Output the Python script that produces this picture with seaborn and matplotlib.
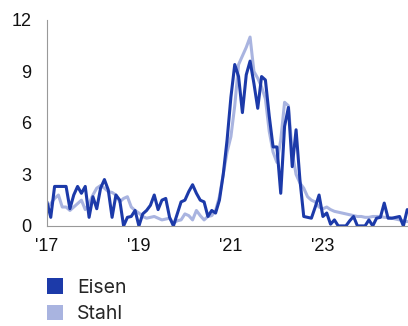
import numpy as np
import pandas as pd
import matplotlib
matplotlib.use("Agg")
import matplotlib.pyplot as plt
import seaborn as sns
from matplotlib.patches import Patch

# monthly values from Jan 2017
eisen = [1.4, 0.5, 2.3, 2.3, 2.3, 2.3, 1.0, 1.8, 2.3, 1.9, 2.3, 0.5,
         1.7, 1.0, 2.2, 2.7, 2.1, 0.5, 1.8, 1.5, 0.0, 0.5, 0.55, 0.9,
         0.0, 0.7, 0.9, 1.2, 1.8, 0.95, 1.5, 1.6, 0.5, 0.0, 0.7, 1.4,
         1.5, 2.0, 2.4, 1.9, 1.5, 1.4, 0.55, 0.9, 0.75, 1.5, 3.0, 5.0,
         7.5, 9.4, 8.7, 6.6, 8.8, 9.6, 8.3, 6.85, 8.7, 8.5, 6.4, 4.6,
         4.6, 1.9, 5.8, 6.9, 3.45, 5.6, 2.7, 0.55, 0.5, 0.45, 1.1, 1.8,
         0.55, 0.75, 0.1, 0.35, 0.0, 0.0, 0.0, 0.3, 0.55, 0.0, 0.0, 0.0,
         0.35, 0.0, 0.45, 0.5, 1.33, 0.45, 0.45, 0.5, 0.55, 0.0, 0.95]
stahl = [1.05, 1.3, 1.6, 1.8, 1.1, 1.1, 0.9, 1.1, 1.3, 1.5, 0.95, 1.3,
         1.8, 2.2, 2.35, 2.2, 2.0, 1.95, 1.8, 1.4, 1.6, 1.7, 1.1, 0.9,
         0.75, 0.55, 0.45, 0.5, 0.55, 0.45, 0.35, 0.4, 0.45, 0.15, 0.3, 0.35,
         0.7, 0.6, 0.35, 0.9, 0.6, 0.35, 0.55, 0.6, 0.9, 1.7, 3.0, 4.3,
         5.2, 7.0, 9.4, 9.9, 10.4, 11.0, 9.0, 8.6, 8.1, 7.4, 5.5, 4.3,
         3.7, 5.0, 7.2, 7.0, 4.3, 3.0, 2.5, 2.2, 1.7, 1.5, 1.4, 1.1,
         1.0, 1.1, 0.95, 0.85, 0.8, 0.75, 0.7, 0.65, 0.6, 0.55, 0.55, 0.5,
         0.5, 0.55, 0.55, 0.55, 0.5, 0.5, 0.45, 0.4, 0.35, 0.3, 0.25]
series_names = ["Eisen", "Stahl"]
colors = ["#1c3aa9", "#a9b4e0"]
xtick_years = [2017, 2019, 2021, 2023]
xtick_labels = ["'17", "'19", "'21", "'23"]
yticks = [0, 3, 6, 9, 12]

t = 2017 + np.arange(len(eisen)) / 12.0
df = pd.DataFrame({"t": np.concatenate([t, t]),
                   "v": eisen + stahl,
                   "s": ["Eisen"] * len(eisen) + ["Stahl"] * len(stahl)})

sns.set_style("white")
plt.rcParams['font.family'] = ['Liberation Sans', 'DejaVu Sans']

fig = plt.figure(figsize=(4.08, 3.26), dpi=100)
ax = fig.add_axes([0.115, 0.307, 0.885, 0.632])
# draw Stahl first, Eisen on top
sns.lineplot(data=df, x="t", y="v", hue="s", hue_order=series_names[::-1],
             palette=colors[::-1], linewidth=2.2, legend=False, ax=ax)

ax.set_xlim(2017, 2024.85)
ax.set_ylim(0, 12)
ax.set_xticks(xtick_years)
ax.set_xticklabels(xtick_labels)
ax.set_yticks(yticks)
ax.set_xlabel("")
ax.set_ylabel("")
for side in ["top", "right"]:
    ax.spines[side].set_visible(False)
for side in ["left", "bottom"]:
    ax.spines[side].set_color("#999999")
    ax.spines[side].set_linewidth(0.8)
ax.tick_params(axis="both", length=4, width=0.8, color="#999999",
               labelsize=13, labelcolor="#111111")
ax.tick_params(axis="y", pad=7)
ax.tick_params(axis="x", pad=5)

handles = [Patch(facecolor=c, edgecolor="none") for c in colors]
fig.legend(handles, series_names, loc="upper left", bbox_to_anchor=(0.072, 0.2),
           frameon=False, prop={"family": "Inter", "size": 14},
           handlelength=0.85, handleheight=0.85,
           handletextpad=0.7, labelspacing=0.4)

fig.savefig("out.png", dpi=100)
